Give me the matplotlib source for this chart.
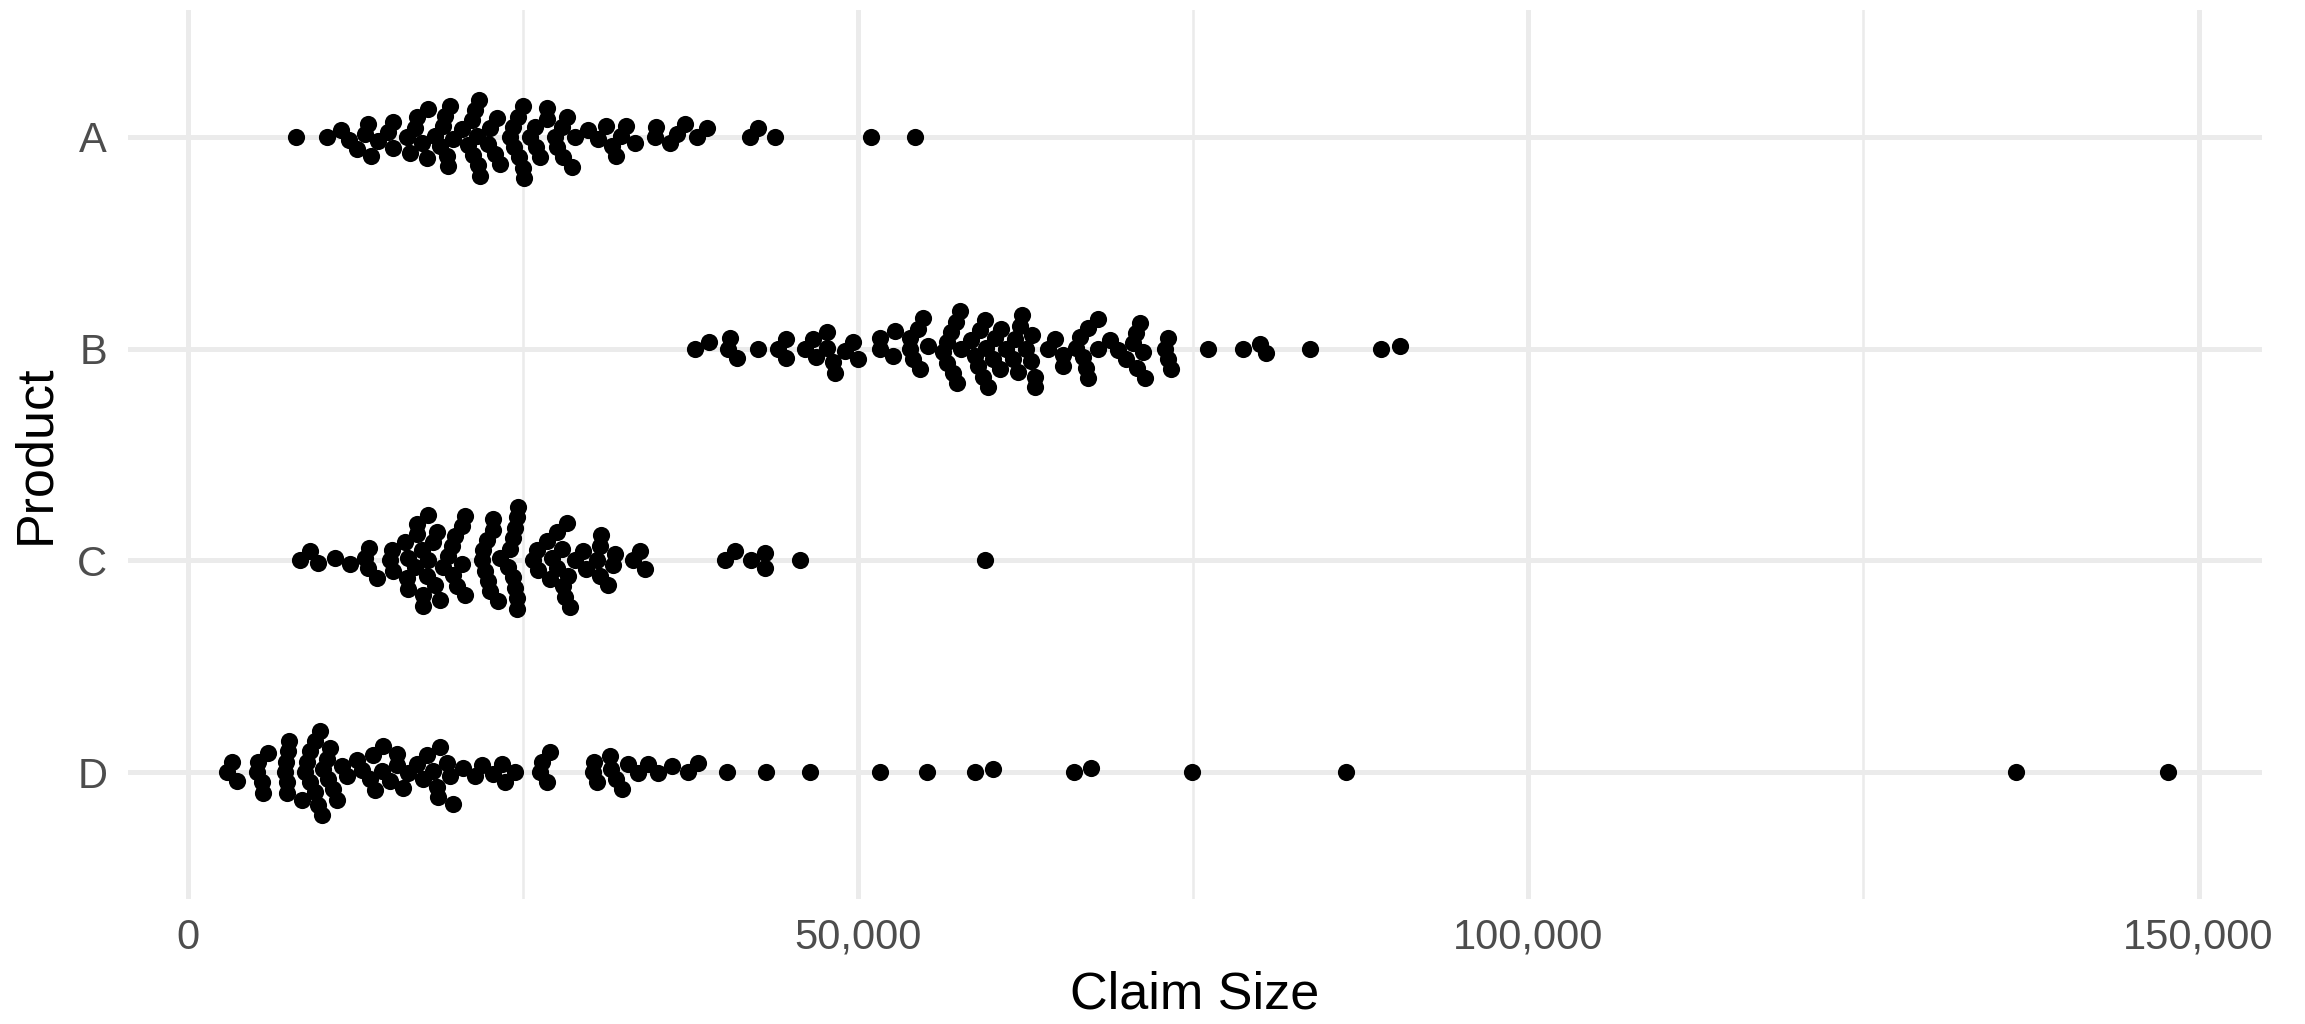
import numpy as np
import matplotlib
matplotlib.use("Agg")
import matplotlib.pyplot as plt
from matplotlib.ticker import FuncFormatter, FixedLocator

plt.rcParams["font.family"] = ["Liberation Sans", "DejaVu Sans"]

products = ["A", "B", "C", "D"]

claims_a = [8030, 10340, 11410, 12010, 12580, 13200, 13450, 13620, 14200, 14940,
            15310, 15330, 16310, 16560, 16930, 17050, 17430, 17800, 17930, 18420,
            18800, 19040, 19170, 19290, 19420, 19540, 19790, 20410, 20910, 21160,
            21280, 21405, 21530, 21650, 21700, 21750, 22400, 22520, 22900, 23020,
            23270, 24015, 24265, 24300, 24640, 24660, 24960, 25010, 25050, 25500,
            25880, 26000, 26250, 26750, 26770, 27370, 27500, 27870, 28000, 28240,
            28620, 28860, 29860, 30600, 31200, 31650, 31900, 32300, 32650, 33340,
            34830, 34950, 35950, 36450, 37070, 37940, 38690, 41920, 42540, 43780,
            50990, 54220]

claims_b = [37816, 38885, 40300, 40430, 40980, 42540, 44030, 44600, 44650, 46020,
            46640, 46890, 47640, 47700, 48130, 48260, 49000, 49625, 49990, 51600,
            51650, 52600, 52730, 53850, 53900, 54100, 54470, 54600, 54850, 55220,
            56340, 56590, 56600, 56960, 57080, 57330, 57350, 57580, 57700, 58450,
            58700, 58950, 59070, 59320, 59440, 59570, 59690,
            60060, 60180, 60560, 60680, 61060, 61550, 61680, 61900, 62050, 62200,
            62500, 62920, 62950, 63170, 63200, 64170, 64670, 65290, 65300,
            66280, 66530, 66780, 67030, 67150, 67160, 67900, 67910, 68770, 69390,
            70010, 70510, 70760, 70770, 71010, 71260, 71380, 72870, 73120, 73130,
            73370, 76100, 78710, 79950, 80450, 83690, 89030, 90400]

claims_c = [8350, 9100, 9720, 10960, 12080, 13200, 13450, 13500, 14070, 15060,
            15190, 15300, 16180, 16310, 16430, 16440, 16930, 17050, 17060, 17430,
            17550, 17560, 17800, 17920, 17930, 18300, 18420, 18550, 18790, 19040,
            19420, 19670, 19790, 19910, 20040, 20410, 20430, 20660,
            20670, 21900, 22030, 22150, 22280, 22400, 22520, 22770, 22780, 23150,
            23270, 23890, 24020, 24260, 24270, 24390, 24400, 24510, 24520, 24530,
            24640, 25750, 26010, 26130, 26750, 27000, 27120, 27500, 27510, 27870,
            28000, 28120, 28240, 28370, 28490, 28860, 29480, 29730, 30480, 30730,
            30740, 30850, 31350, 31720, 31850, 33210, 33710, 34080, 40050, 40800,
            42040, 43040, 43060, 45650, 59440]

claims_d = [2900, 3300, 3650, 5120, 5250, 5500, 5620, 5990, 7240, 7310,
            7360, 7410, 7480, 7560, 8480, 8730, 8850, 9100, 9110, 9470,
            9480, 9720, 9840, 9970, 10090, 10340, 10460, 10590, 10840, 11090,
            11460, 11830, 12580, 12950, 13570, 13820, 13950, 14440, 14570, 15070,
            15560, 15570, 16060, 16430, 17050, 17550, 17800, 18300, 18550, 18670,
            18790, 19290, 19540, 19790, 20530, 21400, 21900, 22770, 23390, 23640,
            24390, 26250, 26380, 26750, 27000, 30200, 30300, 30500, 31470, 31550,
            31900, 32400, 32840, 33590, 34335, 35080, 36075, 37318, 38064, 40177,
            43160, 46392, 51612, 55145, 58700, 60067, 66083, 67400, 74910, 86420,
            136396, 147707]

series = [claims_a, claims_b, claims_c, claims_d]

W, H, DPI = 2305, 1024, 300
fig = plt.figure(figsize=(W / DPI, H / DPI), dpi=DPI)
left, right, top, bottom = 128, 2262, 10, 899
ax = fig.add_axes([left / W, 1 - bottom / H, (right - left) / W, (bottom - top) / H])

xlim = (-4477, 154737)
ylim = (len(products) - 0.4, -0.6)
ax.set_xlim(*xlim)
ax.set_ylim(*ylim)

px_per_x = (right - left) / (xlim[1] - xlim[0])
px_per_cat = (bottom - top) / (ylim[0] - ylim[1])


def swarm_offsets(values, xr=19.0, yr=10.5):
    """Beeswarm placement (ascending priority) in pixel space; returns offsets in px."""
    xs = np.asarray(values, float) * px_per_x
    order = np.argsort(xs, kind="stable")
    px_list, py_list = [], []
    offs = np.zeros(len(xs))
    for i in order:
        x = xs[i]
        near = [(a, b) for a, b in zip(px_list, py_list) if abs(a - x) < xr]
        cands = [0.0]
        for a, b in near:
            h = yr * np.sqrt(max(0.0, 1 - ((x - a) / xr) ** 2))
            cands += [b + h, b - h]
        best = None
        for c in cands:
            ok = all(((x - a) / xr) ** 2 + ((c - b) / yr) ** 2 >= 1 - 1e-6 for a, b in near)
            if ok and (best is None or abs(c) < abs(best) - 1e-9):
                best = c
        offs[i] = best
        px_list.append(x)
        py_list.append(best)
    return offs


for k, vals in enumerate(series):
    off = swarm_offsets(vals)
    y = k - off / px_per_cat
    ax.scatter(vals, y, s=17, color="black", linewidths=0, zorder=3)

# grid and axes styling
grid_col = "#EBEBEB"
ax.set_xticks([0, 50000, 100000, 150000])
ax.xaxis.set_minor_locator(FixedLocator([25000, 75000, 125000]))
ax.set_yticks(range(len(products)))
ax.set_yticklabels(products)
ax.xaxis.set_major_formatter(FuncFormatter(lambda v, p: f"{int(v):,}"))
ax.grid(True, which="major", color=grid_col, linewidth=1.2, zorder=0)
ax.grid(True, which="minor", axis="x", color=grid_col, linewidth=0.6, zorder=0)
ax.set_axisbelow(True)
for s in ax.spines.values():
    s.set_visible(False)
ax.tick_params(which="both", length=0)
ax.tick_params(axis="x", pad=4.5, labelsize=10, labelcolor="#4D4D4D")
ax.tick_params(axis="y", pad=5.0, labelsize=10, labelcolor="#4D4D4D")
ax.set_xlabel("Claim Size", fontsize=12.5, labelpad=3)
ax.set_ylabel("Product", fontsize=12.5, labelpad=4)

fig.savefig("out.png", dpi=DPI, facecolor="white")
